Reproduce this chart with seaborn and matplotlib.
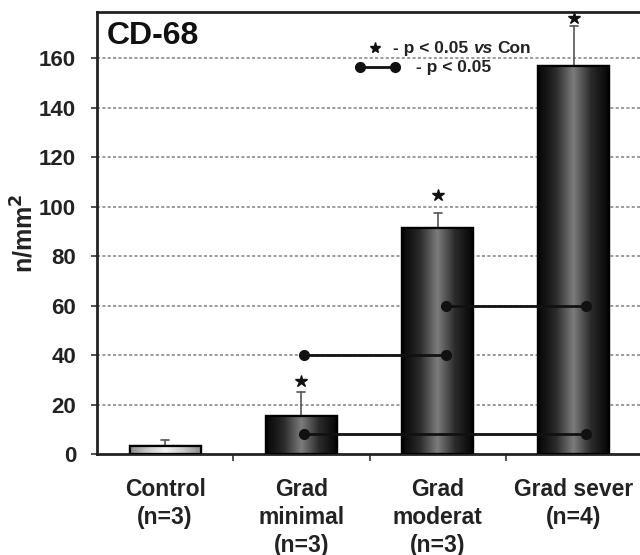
"""CD-68 density per grade, bar chart with significance marks."""
import numpy as np
import pandas as pd
import matplotlib
matplotlib.use("Agg")
import matplotlib.pyplot as plt
from matplotlib.colors import LinearSegmentedColormap
import seaborn as sns

groups = ["Control\n(n=3)", "Grad\nminimal\n(n=3)", "Grad\nmoderat\n(n=3)", "Grad sever\n(n=4)"]
means = [3.2, 15.4, 91.5, 156.8]
sem = [2.5, 9.6, 5.8, 16.2]
star_y = [None, 29.5, 104.5, 176.0]

# pairwise p < 0.05 brackets: (x start, x end, y)
pair_x0 = [2.06, 1.02, 1.02]
pair_x1 = [3.09, 2.06, 3.09]
pair_y = [60, 40, 8]

yticks = [0, 20, 40, 60, 80, 100, 120, 140, 160]

sns.set_theme(style="white")
plt.rcParams["font.family"] = ["Liberation Sans", "DejaVu Sans"]
plt.rcParams["font.weight"] = "bold"

df = pd.DataFrame({"group": groups, "mean": means})

fig = plt.figure(figsize=(6.4, 5.55), dpi=100)
ax = fig.add_axes([97 / 640, 1 - 454 / 555, 545 / 640, 442 / 555])

sns.barplot(data=df, x="group", y="mean", ax=ax, width=0.52, color="#333333",
            edgecolor="black", linewidth=1.6, zorder=3)

dark = LinearSegmentedColormap.from_list(
    "dark", ["#050505", "#2a2a2a", "#7c7c7c", "#2a2a2a", "#050505"])
light = LinearSegmentedColormap.from_list(
    "light", ["#8c8c8c", "#c8c8c8", "#f2f2f2", "#c8c8c8", "#8c8c8c"])
grad = np.linspace(0, 1, 256).reshape(1, -1)
for i, patch in enumerate(ax.patches):
    x0, y0 = patch.get_x(), patch.get_y()
    w, h = patch.get_width(), patch.get_height()
    im = ax.imshow(grad, cmap=light if i == 0 else dark, aspect="auto",
                   extent=[x0, x0 + w, y0, y0 + h], zorder=3.5)
    im.set_clip_path(patch)
    ax.add_patch(plt.Rectangle((x0, y0), w, h, fill=False, edgecolor="black",
                               linewidth=1.6, zorder=4))

for i, (m, e) in enumerate(zip(means, sem)):
    ax.plot([i, i], [m, m + e], color="#555555", lw=1.2, zorder=3.2)
    ax.plot([i - 0.03, i + 0.03], [m + e, m + e], color="#555555", lw=1.2, zorder=3.2)
    if star_y[i] is not None:
        ax.plot(i, star_y[i], marker="*", ms=9, color="#111111", zorder=6)

for a, b, yy in zip(pair_x0, pair_x1, pair_y):
    ax.plot([a, b], [yy, yy], color="#111111", lw=2, zorder=5)
    ax.plot([a, b], [yy, yy], "o", color="#111111", ms=7, zorder=5)

# legend-like key
key_kw = dict(fontsize=12.5, fontweight="bold", color="#222222", va="center")
ax.plot(1.54, 164, marker="*", ms=8, color="#111111")
t1 = ax.text(1.67, 164, "- p < 0.05", ha="left", **key_kw)
t2 = ax.annotate("vs", xy=(1, 0.5), xycoords=t1, xytext=(4, 0), textcoords="offset points",
                 ha="left", fontstyle="italic", **key_kw)
ax.annotate("Con", xy=(1, 0.5), xycoords=t2, xytext=(3, 0), textcoords="offset points",
            ha="left", **key_kw)
ax.plot([1.43, 1.69], [156.4, 156.4], color="#111111", lw=2)
ax.plot([1.43, 1.69], [156.4, 156.4], "o", color="#111111", ms=7)
ax.text(1.84, 156, "- p < 0.05", ha="left", **key_kw)

ax.text(-0.43, 169, "CD-68", ha="left", va="center", fontsize=23, fontweight="bold", color="#111111")

ax.set_xlim(-0.5, 3.5)
ax.set_ylim(0, 178.6)
ax.set_yticks(yticks)
ax.set_yticklabels([str(t) for t in yticks], fontsize=16, fontweight="bold", color="#222222")
ax.set_xticks(range(4))
ax.set_xticklabels(groups, fontsize=16.5, fontweight="bold", color="#222222", va="top",
                   linespacing=1.3)
ax.set_xticks([0.5, 1.5, 2.5], minor=True)
ax.tick_params(axis="x", which="major", length=0, pad=17)
ax.tick_params(axis="x", which="minor", length=5, width=1.2, color="#333333", direction="out", bottom=True)
ax.tick_params(axis="y", length=4, width=1.2, color="#333333", direction="out", left=True, pad=11)
ax.set_xlabel("")
ax.set_ylabel("n/mm$^{\\mathbf{2}}$", fontsize=18, fontweight="bold", color="#222222")
ax.yaxis.set_label_coords(-0.108, 0.5)

for yy in yticks[1:]:
    ax.axhline(yy, color="#808080", lw=1.1, ls=(0, (2, 1.5)), zorder=1)

for side in ["left", "top", "bottom"]:
    ax.spines[side].set_color("#222222")
    ax.spines[side].set_linewidth(2)
ax.spines["right"].set_visible(False)

fig.savefig("out.png", dpi=100)
